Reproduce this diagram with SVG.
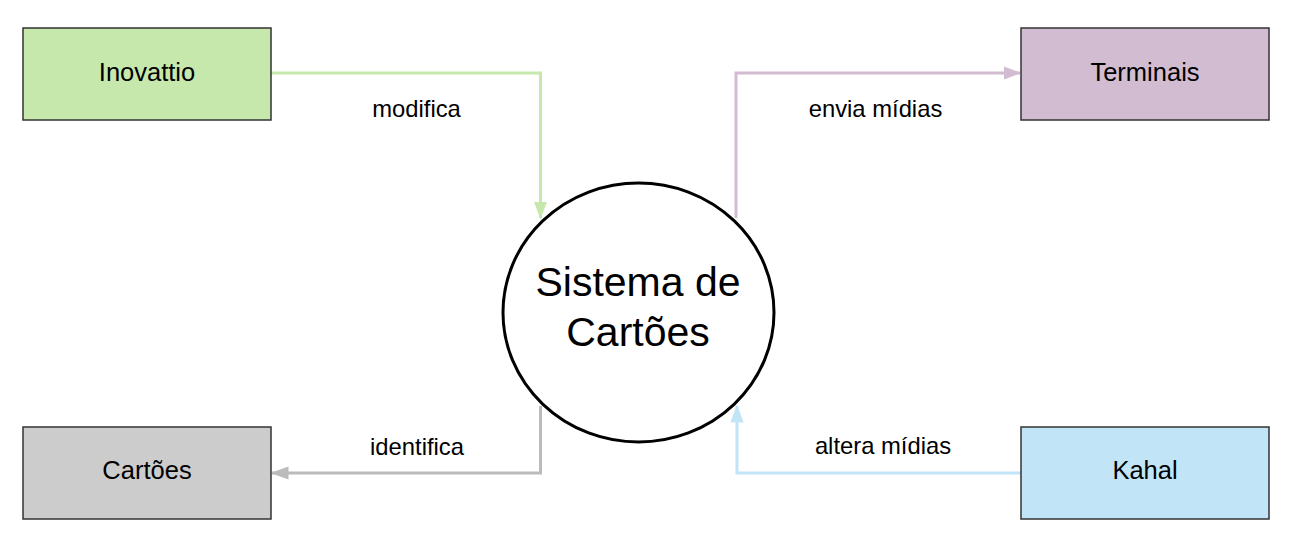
<svg xmlns="http://www.w3.org/2000/svg" width="1292" height="544" viewBox="0 0 1292 544">
<style>
.box{stroke:#333333;stroke-width:1.5}
.t{font-family:"Liberation Sans",Arial,sans-serif;fill:#000;text-anchor:middle}
.bt{font-size:25.5px}
.lt{font-size:23.8px}
.ct{font-size:41px}
.c{fill:none;stroke-width:3}
</style>
<defs>
<marker id="ag" markerWidth="6" markerHeight="4.4" refX="5.5" refY="2.2" orient="auto" markerUnits="strokeWidth" viewBox="0 0 6 4.4"><path d="M0,0 L6,2.2 L0,4.4 Z" fill="#c7e8ac"/></marker>
<marker id="ap" markerWidth="6" markerHeight="4.4" refX="5.5" refY="2.2" orient="auto" markerUnits="strokeWidth" viewBox="0 0 6 4.4"><path d="M0,0 L6,2.2 L0,4.4 Z" fill="#d1bcd2"/></marker>
<marker id="ay" markerWidth="6" markerHeight="4.4" refX="5.5" refY="2.2" orient="auto" markerUnits="strokeWidth" viewBox="0 0 6 4.4"><path d="M0,0 L6,2.2 L0,4.4 Z" fill="#bbbbbb"/></marker>
<marker id="ab" markerWidth="6" markerHeight="4.4" refX="5.5" refY="2.2" orient="auto" markerUnits="strokeWidth" viewBox="0 0 6 4.4"><path d="M0,0 L6,2.2 L0,4.4 Z" fill="#c1e4f7"/></marker>
</defs>
<g id="connectors">
<path class="c" d="M271,73 H540.5 V218" stroke="#c7e8ac" marker-end="url(#ag)"/>
<path class="c" d="M736,218 V73 H1020" stroke="#d1bcd2" marker-end="url(#ap)"/>
<path class="c" d="M540.5,406 V473 H272" stroke="#bbbbbb" marker-end="url(#ay)"/>
<path class="c" d="M1021,473 H737 V406" stroke="#c1e4f7" marker-end="url(#ab)"/>
<text class="t lt" x="416.5" y="117">modifica</text>
<text class="t lt" x="875.5" y="117">envia mídias</text>
<text class="t lt" x="417" y="455">identifica</text>
<text class="t lt" x="883" y="454">altera mídias</text>
</g>
<g id="inovattio">
<rect class="box" x="23" y="28" width="248" height="92" fill="#c7e8ac"/>
<text class="t bt" x="147" y="81">Inovattio</text>
</g>
<g id="terminais">
<rect class="box" x="1021" y="28" width="248" height="92" fill="#d1bcd2"/>
<text class="t bt" x="1145" y="81">Terminais</text>
</g>
<g id="cartoes">
<rect class="box" x="23" y="427" width="248" height="92" fill="#cccccc"/>
<text class="t bt" x="147" y="479">Cartões</text>
</g>
<g id="kahal">
<rect class="box" x="1021" y="427" width="248" height="92" fill="#c1e4f7"/>
<text class="t bt" x="1145" y="479">Kahal</text>
</g>
<g id="sistema">
<ellipse cx="638.5" cy="312.5" rx="135.5" ry="129.5" fill="#ffffff" stroke="#000000" stroke-width="3"/>
<text class="t ct" x="638" y="296">Sistema de</text>
<text class="t ct" x="638" y="346">Cartões</text>
</g>
</svg>
